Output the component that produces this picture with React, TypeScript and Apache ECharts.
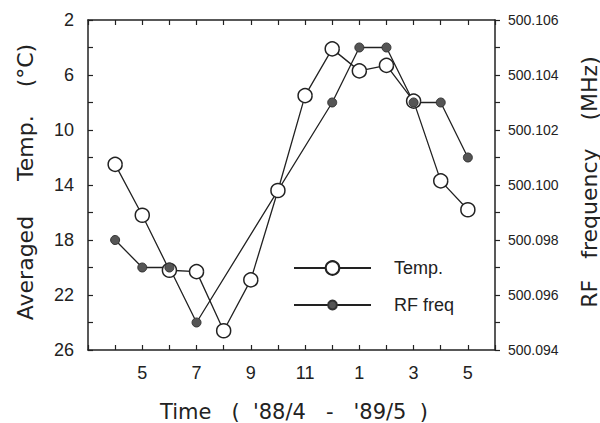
import React, { useEffect, useRef } from "react";
import * as echarts from "echarts";

// Data (month index: 4 = Apr '88 ... 12 = Dec '88, 13 = Jan '89 ... 17 = May '89)
const tempMonths = [4, 5, 6, 7, 8, 9, 10, 11, 12, 13, 14, 15, 16, 17];
const tempValues = [12.5, 16.2, 20.2, 20.3, 24.6, 20.9, 14.4, 7.5, 4.1, 5.7, 5.3, 7.9, 13.7, 15.8];
const rfMonths = [4, 5, 6, 7, 12, 13, 14, 15, 16, 17];
const rfValues = [500.098, 500.097, 500.097, 500.095, 500.103, 500.105, 500.105, 500.103, 500.103, 500.101];

const xLabelMonths = [5, 7, 9, 11, 13, 15, 17];
const xLabelTexts = ["5", "7", "9", "11", "1", "3", "5"];
const leftLabels = [2, 6, 10, 14, 18, 22, 26];
const rightLabels = ["500.094", "500.096", "500.098", "500.100", "500.102", "500.104", "500.106"];

const FONT = "'Liberation Sans', Arial, Helvetica, sans-serif";
const TITLE_FONT = "'DejaVu Sans', 'Liberation Sans', sans-serif";
const INK = "#222";

export default function App() {
  const ref = useRef<HTMLDivElement>(null);
  useEffect(() => {
    if (!ref.current) return;
    const chart = echarts.init(ref.current, undefined, { renderer: "svg" });
    const axisLine = { show: true, lineStyle: { color: INK, width: 1.5 } };
    const tick = (inside: boolean) => ({ show: true, inside, length: 5, lineStyle: { color: INK, width: 1.2 } });
    const option: any = {
      animation: false,
      backgroundColor: "#fff",
      grid: { left: 88, top: 20, right: 105, bottom: 73, containLabel: false },
      xAxis: [
        {
          type: "value",
          position: "bottom",
          min: 3,
          max: 18,
          interval: 1,
          axisLine,
          axisTick: tick(true),
          axisLabel: {
            fontSize: 18,
            fontFamily: FONT,
            color: INK,
            margin: 14,
            showMinLabel: true,
            showMaxLabel: true,
            formatter: (v: number) => {
              const i = xLabelMonths.indexOf(Math.round(v));
              return i >= 0 ? xLabelTexts[i] : "";
            },
          },
          splitLine: { show: false },
        },
        {
          type: "value",
          position: "top",
          min: 3,
          max: 18,
          interval: 1,
          axisLine,
          axisTick: tick(true),
          axisLabel: { show: false },
          splitLine: { show: false },
        },
      ],
      yAxis: [
        {
          type: "value",
          position: "left",
          inverse: true,
          min: 2,
          max: 26,
          interval: 2,
          axisLine,
          axisTick: tick(true),
          axisLabel: {
            fontSize: 18,
            fontFamily: FONT,
            color: INK,
            margin: 14,
            formatter: (v: number) => (leftLabels.indexOf(Math.round(v)) >= 0 ? String(Math.round(v)) : ""),
          },
          splitLine: { show: false },
        },
        {
          type: "value",
          position: "right",
          min: 500.094,
          max: 500.106,
          interval: 0.001,
          axisLine,
          axisTick: tick(false),
          axisLabel: {
            fontSize: 14,
            fontFamily: FONT,
            color: INK,
            margin: 13,
            formatter: (v: number) => {
              const s = v.toFixed(3);
              return rightLabels.indexOf(s) >= 0 ? s : "";
            },
          },
          splitLine: { show: false },
        },
      ],
      legend: [
        {
          data: ["Temp."],
          orient: "vertical",
          left: 293,
          top: 259,
          padding: 0,
          itemWidth: 77,
          itemHeight: 17,
          textStyle: { fontSize: 18, fontFamily: FONT, color: INK, padding: [0, 0, 0, 18] },
        },
        {
          data: ["RF freq"],
          orient: "vertical",
          left: 293,
          top: 296,
          padding: 0,
          itemWidth: 77,
          itemHeight: 11,
          textStyle: { fontSize: 18, fontFamily: FONT, color: INK, padding: [0, 0, 0, 18] },
        },
      ],
      series: [
        {
          name: "Temp.",
          type: "line",
          xAxisIndex: 0,
          yAxisIndex: 0,
          data: tempMonths.map((m, i) => [m, tempValues[i]]),
          symbol: "circle",
          symbolSize: 14,
          itemStyle: { color: "#fff", borderColor: INK, borderWidth: 1.5 },
          lineStyle: { color: INK, width: 1.3 },
        },
        {
          name: "RF freq",
          type: "line",
          xAxisIndex: 0,
          yAxisIndex: 1,
          data: rfMonths.map((m, i) => [m, rfValues[i]]),
          symbol: "circle",
          symbolSize: 9,
          itemStyle: { color: "#555", borderColor: "#333", borderWidth: 1 },
          lineStyle: { color: INK, width: 1.3 },
        },
      ],
      graphic: [
        {
          type: "text",
          x: 25,
          y: 182,
          rotation: Math.PI / 2,
          style: {
            text: "Averaged     Temp.    (°C)",
            font: `22px ${TITLE_FONT}`,
            fill: INK,
            textAlign: "center",
            textVerticalAlign: "middle",
          },
        },
        {
          type: "text",
          x: 589,
          y: 182,
          rotation: Math.PI / 2,
          style: {
            text: "RF   frequency    (MHz)",
            font: `22px ${TITLE_FONT}`,
            fill: INK,
            textAlign: "center",
            textVerticalAlign: "middle",
          },
        },
        {
          type: "text",
          x: 294,
          y: 412,
          style: {
            text: "Time   (  '88/4   -   '89/5  )",
            font: `21px ${TITLE_FONT}`,
            fill: INK,
            textAlign: "center",
            textVerticalAlign: "middle",
          },
        },
      ],
    };
    chart.setOption(option);
    return () => chart.dispose();
  }, []);
  return <div ref={ref} style={{ width: 600, height: 423, position: "absolute", left: 0, top: 0 }} />;
}
